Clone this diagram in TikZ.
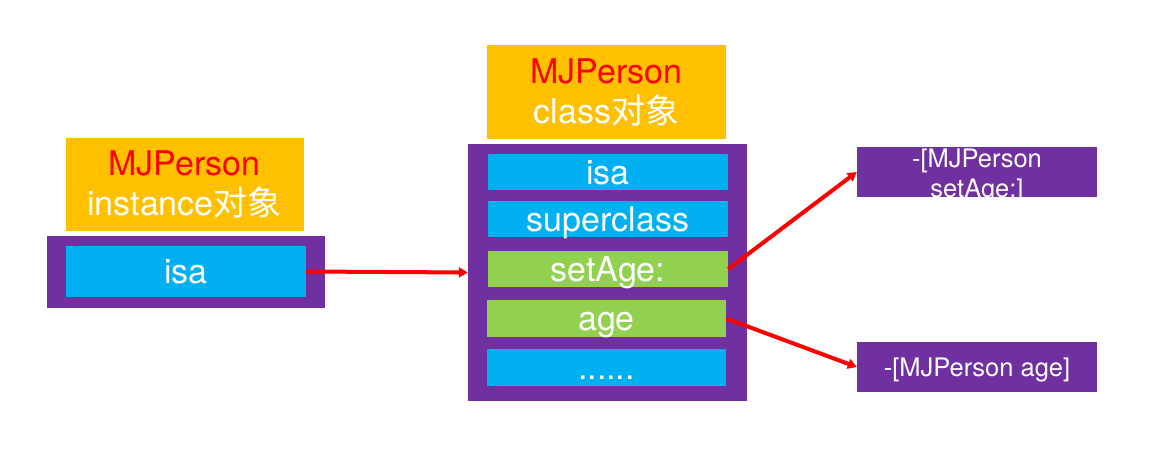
\documentclass[tikz,border=0pt]{standalone}
\usepackage{fontspec}
\setmainfont{TeX Gyre Heros}
\newfontfamily\cjk{Noto Sans CJK SC}
\usetikzlibrary{arrows.meta}
\definecolor{korange}{RGB}{255,192,0}
\definecolor{kpurple}{RGB}{112,48,160}
\definecolor{kblue}{RGB}{0,176,240}
\definecolor{kgreen}{RGB}{146,208,80}
\definecolor{kred}{RGB}{255,0,0}
\tikzset{
  titlebox/.style={fill=korange, inner sep=0, align=center, text=white,
    font=\fontsize{34}{40}\selectfont},
  frame/.style={fill=kpurple, inner sep=0},
  field/.style={fill=kblue, inner sep=0, text=white, text height=24pt, text depth=0pt,
    font=\fontsize{34}{40}\selectfont},
  method/.style={field, fill=kgreen},
  impl/.style={fill=kpurple, inner sep=0, text=white, align=center,
    font=\fontsize{25.5}{30}\selectfont},
  link/.style={kred, line width=4pt, -{Triangle[length=9pt,width=10pt]}},
}
\begin{document}
\begin{tikzpicture}[x=1pt,y=-1pt]
\useasboundingbox (0,0) rectangle (1176,458);
% instance object
\node[titlebox, minimum width=238pt, minimum height=93pt] (ititle) at (184.5,184)
  {\textcolor{kred}{MJPerson}\\instance{\cjk 对象}};
\node[frame, minimum width=278pt, minimum height=72pt] (iframe) at (186,272) {};
\node[field, minimum width=240pt, minimum height=51pt] (iisa) at (186,271.5) {isa};
% class object
\node[titlebox, minimum width=239pt, minimum height=94pt] (ctitle) at (606.5,92)
  {\textcolor{kred}{MJPerson}\\class{\cjk 对象}};
\node[frame, minimum width=279pt, minimum height=257pt] (cframe) at (607.5,272.5) {};
\node[field, minimum width=240pt, minimum height=36pt] (cisa) at (608,172) {isa};
\node[field, minimum width=240pt, minimum height=36pt] (csuper) at (608,219) {superclass};
\node[method, minimum width=240pt, minimum height=36pt] (csetage) at (608,269) {setAge:};
\node[method, minimum width=239pt, minimum height=37pt] (cage) at (606.5,318.5) {age};
\node[field, minimum width=239pt, minimum height=37pt] (cmore) at (606.5,367.5) {......};
% method implementations
\node[impl, minimum width=240pt, minimum height=50pt] (msetage) at (977,172) {};
\begin{scope}
  \clip (msetage.south west) rectangle (msetage.north east);
  \node[impl, fill=none, inner sep=0, anchor=north] (msetagetext) at (977,149)
    {-[MJPerson\\setAge:]};
\end{scope}
\node[impl, minimum width=240pt, minimum height=50pt, text height=19pt, text depth=0pt]
  (mage) at (977,367) {-[MJPerson age]};
% connectors
\draw[link] (iisa.east) -- (cframe.west);
\draw[link] (csetage.east) -- (msetage.west);
\draw[link] (cage.east) -- (mage.west);
\end{tikzpicture}
\end{document}
